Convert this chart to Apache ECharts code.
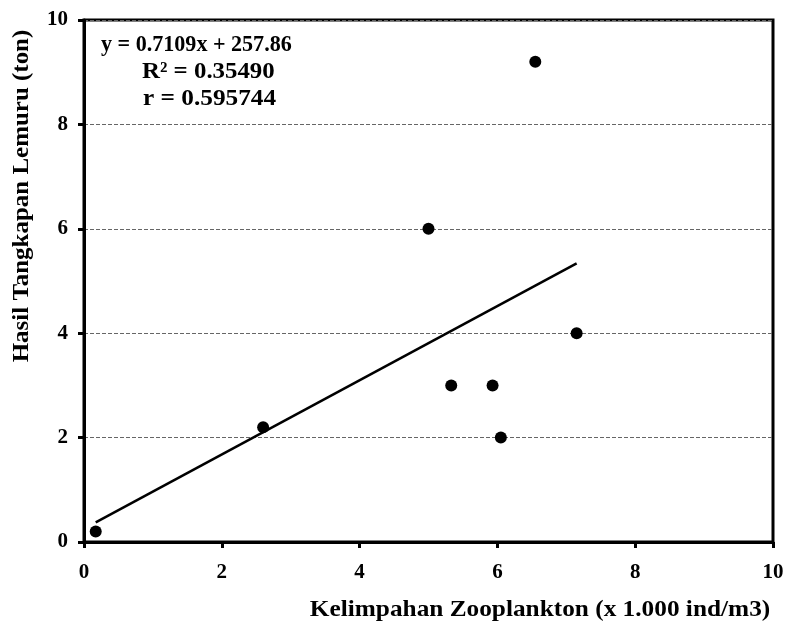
<!DOCTYPE html>
<html>
<head>
<meta charset="utf-8">
<script src="https://cdn.jsdelivr.net/npm/echarts@6/dist/echarts.min.js"></script>
<style>html,body{margin:0;padding:0;background:#fff;}#c{width:788px;height:621px;}</style>
</head>
<body>
<div id="c"></div>
<script>
// Data
var zooplankton = [0.17, 2.6, 5.0, 6.55, 5.33, 5.93, 6.05, 7.15];
var catchTon    = [0.2, 2.2, 6.0, 9.2, 3.0, 3.0, 2.0, 4.0];
var xTicks = [0, 2, 4, 6, 8, 10];
var yTicks = [0, 2, 4, 6, 8, 10];
var equationLines = ['y = 0.7109x + 257.86', 'R\u00B2 = 0.35490', 'r = 0.595744'];
var xTitle = 'Kelimpahan Zooplankton (x 1.000 ind/m3)';
var yTitle = 'Hasil Tangkapan Lemuru (ton)';

// Linear trend line (least squares over the data)
var n = zooplankton.length, mx = 0, my = 0;
for (var i = 0; i < n; i++) { mx += zooplankton[i]; my += catchTon[i]; }
mx /= n; my /= n;
var sxy = 0, sxx = 0;
for (var i = 0; i < n; i++) { sxy += (zooplankton[i]-mx)*(catchTon[i]-my); sxx += (zooplankton[i]-mx)*(zooplankton[i]-mx); }
var slope = sxy/sxx, icpt = my - slope*mx;
var xmin = Math.min.apply(null, zooplankton), xmax = Math.max.apply(null, zooplankton);
var trend = [[xmin, icpt + slope*xmin], [xmax, icpt + slope*xmax]];

var pts = zooplankton.map(function(v, i){ return [v, catchTon[i]]; });
var font = '"Liberation Serif", "Times New Roman", serif';

var chart = echarts.init(document.getElementById('c'), null, {renderer: 'canvas'});
chart.setOption({
  animation: false,
  backgroundColor: '#fff',
  grid: {left: 84, right: 15, top: 20, bottom: 79, show: true, borderColor: '#000', borderWidth: 3, backgroundColor: 'transparent'},
  xAxis: {
    type: 'value', min: xTicks[0], max: xTicks[xTicks.length-1], interval: 2,
    axisLine: {show: true, onZero: false, lineStyle: {color: '#000', width: 3}},
    axisTick: {show: true, inside: false, length: 6, lineStyle: {color: '#000', width: 3}},
    axisLabel: {color: '#000', fontFamily: font, fontWeight: 'bold', fontSize: 21, margin: 20},
    splitLine: {show: false}
  },
  yAxis: {
    type: 'value', min: yTicks[0], max: yTicks[yTicks.length-1], interval: 2,
    axisLine: {show: true, onZero: false, lineStyle: {color: '#000', width: 3}},
    axisTick: {show: true, inside: false, length: 6, lineStyle: {color: '#000', width: 3}},
    axisLabel: {color: '#000', fontFamily: font, fontWeight: 'bold', fontSize: 21, margin: 16},
    splitLine: {show: true, lineStyle: {color: '#666', width: 1, type: [4, 2]}}
  },
  series: [
    {type: 'line', data: trend, showSymbol: false, symbol: 'none', lineStyle: {color: '#000', width: 2.5}, z: 2},
    {type: 'scatter', data: pts, symbol: 'circle', symbolSize: 12, itemStyle: {color: '#000', opacity: 1}, z: 3}
  ],
  graphic: [
    {type: 'text', x: 101, y: 45, scaleX: 0.96, style: {text: equationLines[0], fill: '#000', font: 'bold 23px ' + font, textVerticalAlign: 'middle'}},
    {type: 'text', x: 142, y: 72, scaleX: 1.08, style: {text: equationLines[1], fill: '#000', font: 'bold 23px ' + font, textVerticalAlign: 'middle'}},
    {type: 'text', x: 143, y: 99, scaleX: 1.10, style: {text: equationLines[2], fill: '#000', font: 'bold 23px ' + font, textVerticalAlign: 'middle'}},
    {type: 'text', x: 540, y: 610, scaleX: 1.10, style: {text: xTitle, fill: '#000', font: 'bold 23px ' + font, textAlign: 'center', textVerticalAlign: 'middle'}},
    {type: 'text', x: 22, y: 196, rotation: Math.PI/2, scaleX: 1.085, style: {text: yTitle, fill: '#000', font: 'bold 23px ' + font, textAlign: 'center', textVerticalAlign: 'middle'}}
  ]
});
</script>
</body>
</html>
